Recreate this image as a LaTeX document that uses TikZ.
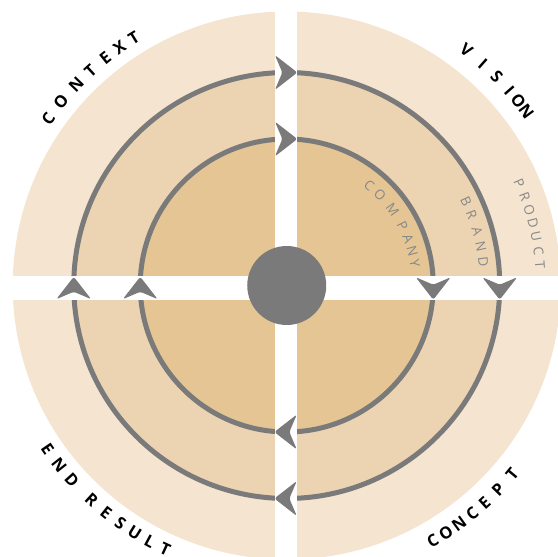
\documentclass[tikz,border=0pt]{standalone}
\usepackage{fontspec}
\newfontfamily\labfont{Open Sans}
\definecolor{outerc}{HTML}{F4E4D0}
\definecolor{midc}{HTML}{ECD4B2}
\definecolor{innerc}{HTML}{E4C593}
\definecolor{ringc}{HTML}{7A7A7A}
\definecolor{labgray}{HTML}{888888}
\begin{document}
\begin{tikzpicture}[x=1pt,y=1pt,
  ring/.style={draw=ringc,line width=5pt},
  biglab/.style={font=\labfont\bfseries\fontsize{16.5}{16.5}\selectfont,text=black,inner sep=0pt},
  smalllab/.style={font=\labfont\fontsize{13.5}{13.5}\selectfont,text=labgray,inner sep=0pt},
  arrowpic/.pic={\fill[ringc,rounded corners=2.5pt] (11.5,0) -- (-11,17.5) -- (-3.5,0) -- (-11,-17.5) -- cycle;}]
\useasboundingbox (-286.75,-271.5) rectangle (271.25,285.5);
% discs
\fill[outerc] (0,0) circle (274);
\fill[midc] (0,0) circle (213);
\fill[innerc] (0,0) circle (146.5);
\draw[ring] (0,0) circle (213);
\draw[ring] (0,0) circle (146.5);
% gaps
\fill[white] (-11.75,-300) rectangle (10,300);
\fill[white] (-300,-14.5) rectangle (300,9);
% centre
\node[circle,fill=ringc,minimum size=79pt,inner sep=0pt] (hub) at (0,0) {};
% arrows (clockwise)
\pic at (-0.9,213) {arrowpic};
\pic at (-0.9,146.5) {arrowpic};
\pic[rotate=-90] at (213,-2.75) {arrowpic};
\pic[rotate=-90] at (146.5,-2.75) {arrowpic};
\pic[rotate=180] at (-0.9,-213) {arrowpic};
\pic[rotate=180] at (-0.9,-146.5) {arrowpic};
\pic[rotate=90] at (-213,-2.75) {arrowpic};
\pic[rotate=90] at (-146.5,-2.75) {arrowpic};
% outer labels
\foreach \a/\c [count=\i] in {145.0/C,140.9/O,136.3/N,132.4/T,128.6/E,125.1/X,121.7/T}
  \node[biglab,rotate=\a-90] (context\i) at (\a:291) {\c};
\foreach \a/\c [count=\i] in {52.6/V,48.5/I,44.8/S,41.2/I,38.5/O,36.0/N}
  \node[biglab,rotate=\a-90] (vision\i) at (\a:296) {\c};
\foreach \a/\c [count=\i] in {-60.2/C,-57.2/O,-54.1/N,-50.9/C,-47.7/E,-44.0/P,-39.9/T}
  \node[biglab,rotate=\a+90] (concept\i) at (\a:294) {\c};
\foreach \a/\c [count=\i] in {214.4/E,218.3/N,222.2/D,227.7/R,231.5/E,235.0/S,238.4/U,241.8/L,245.2/T}
  \node[biglab,rotate=\a+90] (endresult\i) at (\a:290) {\c};
% ring labels
\foreach \a/\c [count=\i] in {50.6/C,44.1/O,35.5/M,27.1/P,21.0/A,15.1/N,9.7/Y}
  \node[smalllab,rotate=\a-90] (company\i) at (\a:130) {\c};
\foreach \a/\c [count=\i] in {25.0/B,21.0/R,15.9/A,11.3/N,6.9/D}
  \node[smalllab,rotate=\a-90] (brand\i) at (\a:198) {\c};
\foreach \a/\c [count=\i] in {23.8/P,20.4/R,17.3/O,14.2/D,11.2/U,7.7/C,4.6/T}
  \node[smalllab,rotate=\a-90] (product\i) at (\a:254) {\c};
\end{tikzpicture}
\end{document}
